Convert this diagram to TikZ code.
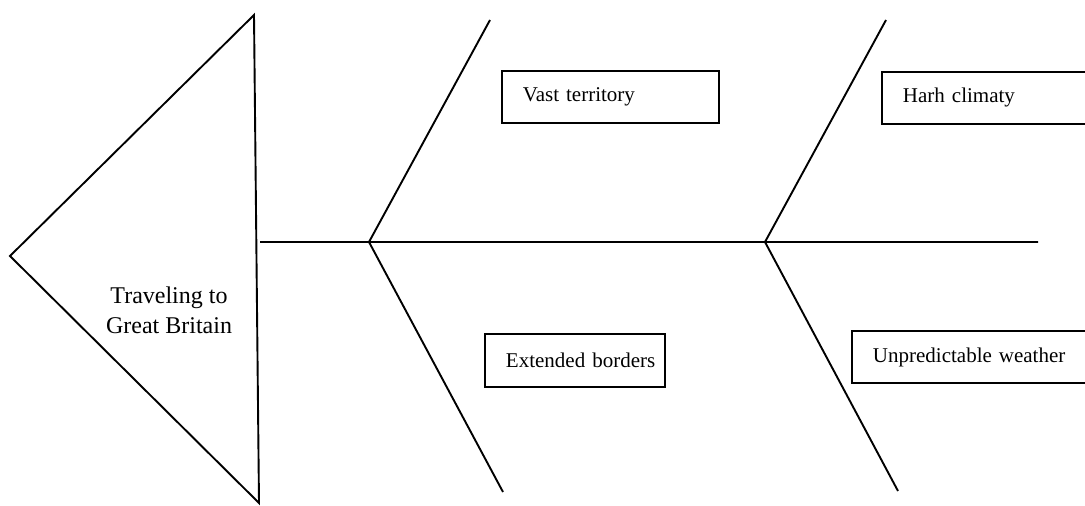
\documentclass[tikz,border=0pt]{standalone}
\usepackage{fontspec}
\setmainfont{Liberation Serif}
\usetikzlibrary{positioning, calc}

\tikzset{
    bone/.style={line width=1.9pt, line join=miter},
    cause/.style={draw, line width=1.9pt, rectangle, anchor=north west,
        align=left, inner xsep=21pt, inner ysep=0pt, minimum height=52pt,
        font=\fontsize{21}{25}\selectfont},
}

\begin{document}
\begin{tikzpicture}[x=1pt, y=-1pt]
    \useasboundingbox (0,0) rectangle (1085,506);
    \clip (0,0) rectangle (1085,506);

    % head
    \coordinate (tip) at (10, 256);
    \coordinate (top) at (254, 15);
    \coordinate (bot) at (259, 503);
    \node[align=center, font=\fontsize{24}{30}\selectfont] (effect) at (169, 310) {Traveling to\\Great Britain};

    % spine and bones
    \coordinate (s0) at (260, 242);
    \coordinate (s1) at (1038, 242);
    \coordinate (j1) at (369, 242);
    \coordinate (j2) at (765, 242);
    \coordinate (j1up) at (490, 20);
    \coordinate (j1dn) at (503, 492);
    \coordinate (j2up) at (886, 20);
    \coordinate (j2dn) at (898, 491);

    % causes
    \node[cause, text width=175pt] (vast) at (501, 70) {Vast territory};
    \node[cause, text width=190pt] (harsh) at (881, 71) {Harh climaty};
    \node[cause, text width=138pt, minimum height=53pt] (borders) at (484, 333) {\mbox{Extended borders}};
    \node[cause, text width=210pt] (weather) at (851, 330) {Unpredictable weather};

    \draw[bone] (tip) -- (top) -- (bot) -- cycle;
    \draw[bone]
        (s0) -- (s1)
        (j1) -- (j1up)
        (j1) -- (j1dn)
        (j2) -- (j2up)
        (j2) -- (j2dn)
        ;
\end{tikzpicture}
\end{document}
